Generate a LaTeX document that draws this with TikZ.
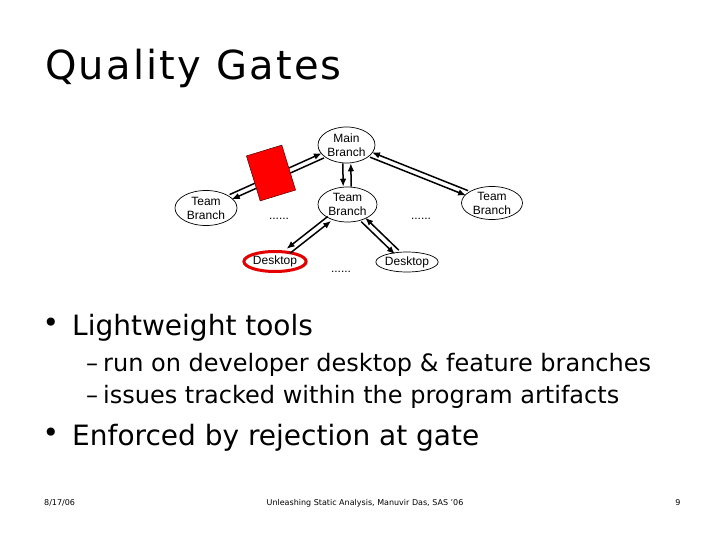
\documentclass[tikz,border=0pt]{standalone}
\usepackage{fontspec}
\setmainfont{DejaVu Sans}
\newfontfamily\titlef[LetterSpace=5.5]{DejaVu Sans}
\newfontfamily\arialf{Liberation Sans}
\usetikzlibrary{calc,shapes.geometric,arrows.meta}
\newcommand\twoway[5]{%
  \path (#1) -- (#2) coordinate[pos=0] (tw1) coordinate[pos=1] (tw2);
  \draw[conn] ($(tw1)!#5!#3:(tw2)$) -- ($(tw2)!#5!#4:(tw1)$);
  \draw[conn] ($(tw2)!#5!#3:(tw1)$) -- ($(tw1)!#5!#4:(tw2)$);
}
\tikzset{
  br/.style={ellipse, draw=black, line width=0.7pt, inner sep=0pt,
    font=\arialf\fontsize{12}{14}\selectfont, align=center},
  conn/.style={line width=1.5pt, -{Latex[length=8pt,width=6.5pt]}},
  dots/.style={font=\arialf\fontsize{12}{14}\selectfont, inner sep=0pt},
  txt/.style={anchor=base west, inner sep=0pt},
}
\begin{document}
\begin{tikzpicture}[x=1pt,y=-1pt]
\useasboundingbox[fill=white] (0,0) rectangle (720,540);
% title
\node[txt, font=\titlef\fontsize{40}{46}\selectfont] (title) at (45,80) {Quality Gates};
% diagram
\node[br, minimum width=57pt, minimum height=36pt] (main) at (346.5,145) {Main\\Branch};
\node[br, minimum width=62pt, minimum height=35pt] (lt) at (206,208) {Team\\Branch};
\node[br, minimum width=59pt, minimum height=35pt] (mt) at (347.5,204.5) {Team\\Branch};
\node[br, minimum width=61pt, minimum height=33pt] (rt) at (492,203) {Team\\Branch};
\node[br, draw=red!90!black, line width=3pt, minimum width=61pt, minimum height=20pt] (dl) at (275,261.5) {Desktop};
\node[br, minimum width=60pt, minimum height=20pt] (dr) at (407,262) {Desktop};
\node[dots] (d1) at (279,219) {......};
\node[dots] (d2) at (421,219) {......};
\node[dots] (d3) at (341,272) {......};
\twoway{main}{lt}{90}{-90}{2.6pt}
\twoway{main}{mt}{-90}{90}{4pt}
\twoway{main}{rt}{-90}{90}{2.6pt}
\twoway{mt}{dl}{-90}{90}{2.8pt}
\twoway{mt}{dr}{-90}{90}{2.8pt}
\node[draw=black!70!red, line width=0.5pt, fill=red, rotate=17, minimum width=37pt, minimum height=47pt, inner sep=0pt] (gate) at (271,173) {};
% bullets
\node[inner sep=0pt, font=\fontsize{28}{32}\selectfont] (b1) at (51,325) {•};
\node[txt, font=\fontsize{28}{32}\selectfont] (t1) at (72,335) {Lightweight tools};
\node[txt, font=\fontsize{24}{28}\selectfont] (s1) at (86,371) {–};
\node[txt, font=\fontsize{24}{28}\selectfont] (t2) at (103,371) {run on developer desktop \& feature branches};
\node[txt, font=\fontsize{24}{28}\selectfont] (s2) at (86,403) {–};
\node[txt, font=\fontsize{24}{28}\selectfont] (t3) at (103,403) {issues tracked within the program artifacts};
\node[inner sep=0pt, font=\fontsize{28}{32}\selectfont] (b2) at (51,435) {•};
\node[txt, font=\fontsize{28}{32}\selectfont] (t4) at (72,445) {Enforced by rejection at gate};
% footer
\node[txt, font=\fontsize{8}{10}\selectfont] (f1) at (44,505) {8/17/06};
\node[anchor=base, inner sep=0pt, font=\fontsize{8}{10}\selectfont] (f2) at (365,505) {Unleashing Static Analysis, Manuvir Das, SAS '06};
\node[anchor=base, inner sep=0pt, font=\fontsize{8}{10}\selectfont] (f3) at (678,505) {9};
\end{tikzpicture}
\end{document}
